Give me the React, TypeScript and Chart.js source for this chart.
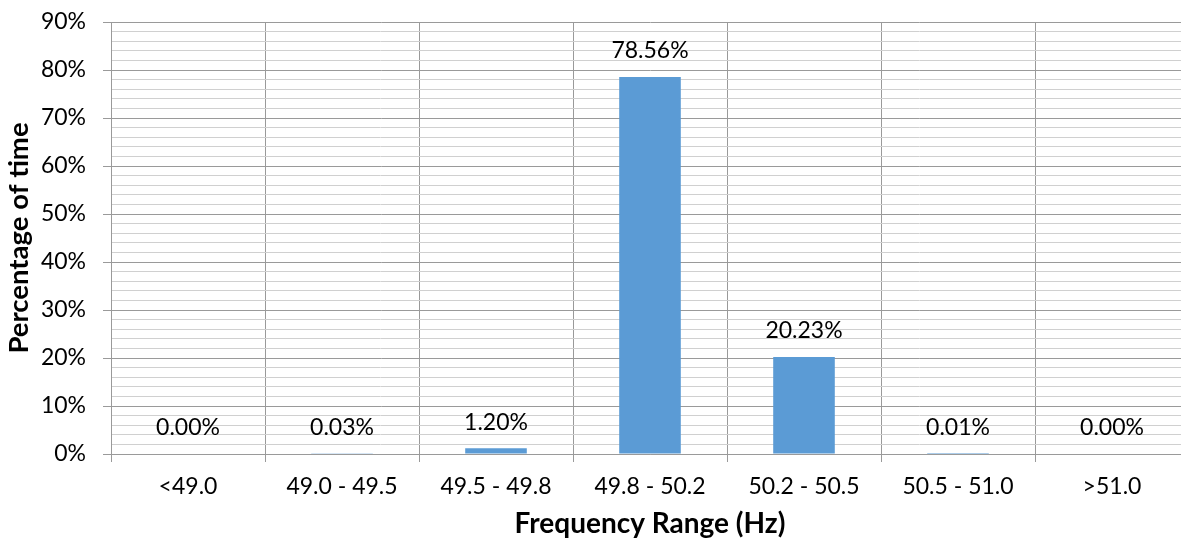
import React, { useEffect, useRef } from "react";
import { Chart, registerables } from "chart.js";

Chart.register(...registerables);

const categories = ["<49.0", "49.0 - 49.5", "49.5 - 49.8", "49.8 - 50.2", "50.2 - 50.5", "50.5 - 51.0", ">51.0"];
const percentValues = [0.0, 0.03, 1.2, 78.56, 20.23, 0.01, 0.0];
const valueLabels = ["0.00%", "0.03%", "1.20%", "78.56%", "20.23%", "0.01%", "0.00%"];
const yMax = 90;
const yMinorStep = 2;
const yMajorStep = 10;

const FONT = "Lato, 'Open Sans', sans-serif";

const labelPlugin = {
  id: "valueLabels",
  afterDatasetsDraw(chart: any) {
    const { ctx } = chart;
    const meta = chart.getDatasetMeta(0);
    ctx.save();
    ctx.font = `23px ${FONT}`;
    ctx.fillStyle = "#000";
    ctx.textAlign = "center";
    ctx.textBaseline = "middle";
    meta.data.forEach((bar: any, i: number) => {
      ctx.fillText(valueLabels[i], bar.x, bar.y - 26);
    });
    ctx.restore();
  },
};

export default function App() {
  const ref = useRef<HTMLCanvasElement>(null);
  useEffect(() => {
    if (!ref.current) return;
    const chart = new Chart(ref.current, {
      type: "bar",
      data: {
        labels: categories,
        datasets: [
          {
            data: percentValues,
            backgroundColor: "#5B9BD5",
            barPercentage: 0.4,
            categoryPercentage: 1,
          },
        ],
      },
      options: {
        animation: false,
        responsive: false,
        devicePixelRatio: 1,
        layout: { padding: { top: 22, right: 11, left: 0, bottom: 0 } },
        plugins: { legend: { display: false }, tooltip: { enabled: false } },
        scales: {
          x: {
            grid: {
              offset: true,
              color: "#9a9a9a",
              lineWidth: 1,
              tickLength: 8,
              tickColor: "#9a9a9a",
            },
            border: { color: "#9a9a9a" },
            ticks: { color: "#000", font: { family: FONT, size: 23 }, padding: 11, maxRotation: 0, autoSkip: false },
            title: {
              display: true,
              text: "Frequency Range (Hz)",
              color: "#000",
              font: { family: FONT, size: 28, weight: "bold" },
              padding: { bottom: 2 },
            },
            afterFit(scale: any) {
              scale.height = 89;
            },
          },
          yMinor: {
            position: "left",
            z: -1,
            min: 0,
            max: yMax,
            grid: {
              color: (c: any) => (c.tick && c.tick.value % yMajorStep === 0 ? "rgba(0,0,0,0)" : "#d0d0d0"),
              drawTicks: false,
            },
            border: { display: false },
            ticks: { display: false },
            afterBuildTicks(scale: any) {
              const t: any[] = [];
              for (let v = 0; v <= yMax; v += yMinorStep) t.push({ value: v });
              scale.ticks = t;
            },
            afterFit(scale: any) {
              scale.width = 0;
              scale.paddingTop = 0;
              scale.paddingBottom = 0;
            },
          },
          y: {
            position: "left",
            min: 0,
            max: yMax,
            grid: {
              color: "#9a9a9a",
              tickColor: "#9a9a9a",
              tickLength: 8,
            },
            border: { color: "#9a9a9a" },
            ticks: {
              stepSize: yMajorStep,
              color: "#000",
              font: { family: FONT, size: 23 },
              padding: 17,
              callback: (v: any) => `${v}%`,
            },
            title: {
              display: true,
              text: "Percentage of time",
              color: "#000",
              font: { family: FONT, size: 27.5, weight: "bold" },
              padding: { top: 2.5 },
            },
            afterFit(scale: any) {
              scale.width = 111;
              scale.paddingTop = 0;
              scale.paddingBottom = 0;
            },
          },
        },
      },
      plugins: [labelPlugin],
    });
    return () => chart.destroy();
  }, []);
  return (
    <div style={{ position: "fixed", left: 0, top: 0, right: 0, bottom: 0, overflow: "hidden", background: "#fff" }}>
      <canvas ref={ref} width={1200} height={543} style={{ display: "block", width: 1200, height: 543 }} />
    </div>
  );
}
